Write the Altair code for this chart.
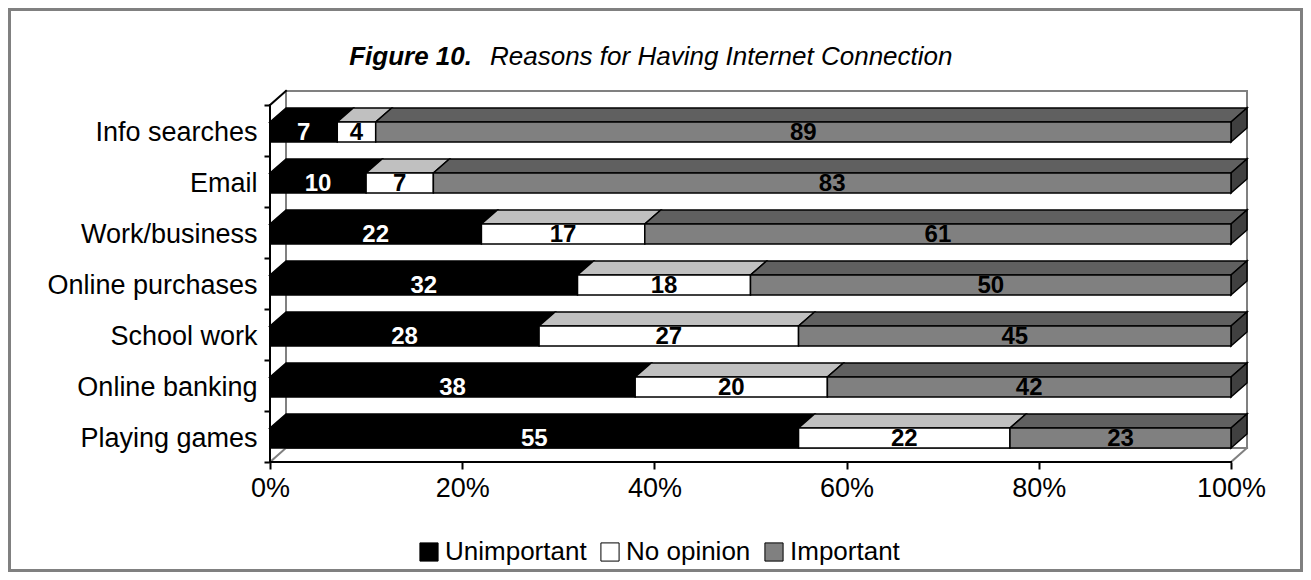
import json
import altair as alt
import pandas as pd

# ---- data ----
categories = ["Info searches", "Email", "Work/business", "Online purchases",
              "School work", "Online banking", "Playing games"]
unimportant = [7, 10, 22, 32, 28, 38, 55]
no_opinion = [4, 7, 17, 18, 27, 20, 22]
important = [89, 83, 61, 50, 45, 42, 23]
series = ["Unimportant", "No opinion", "Important"]
x_ticks = [0, 20, 40, 60, 80, 100]

# ---- styles ----
front_colors = ["#000000", "#ffffff", "#808080"]
top_colors = ["#000000", "#c0c0c0", "#606060"]
side_color = "#404040"
label_colors = ["#ffffff", "#000000", "#000000"]
FONT = "Liberation Sans"

N = len(categories)
PX_PER_PCT = 9.61          # plot pixels per percent
PX_PER_BAND = 51.0         # plot pixels per category band
DX = 16 / PX_PER_PCT       # 3-D depth, horizontal (in % units)
DY = 14 / PX_PER_BAND      # 3-D depth, vertical (in band units)
LO = DY                    # front face bottom within band
HI = LO + 20 / PX_PER_BAND # front face top within band
W = round(PX_PER_PCT * (100 + DX))
H = round(PX_PER_BAND * (N + DY))

values = [unimportant, no_opinion, important]
front_rows, top_rows, side_rows = [], [], []
for k, cat in enumerate(categories):
    i = N - 1 - k
    start = 0
    for s, name in enumerate(series):
        v = values[s][k]
        end = start + v
        front_rows.append(dict(cat=cat, series=name, x=start, x2=end,
                               y=i + LO, y2=i + HI, mid=(start + end) / 2,
                               ymid=i + (LO + HI) / 2, val=v,
                               lab=label_colors[s]))
        fid = f"{cat}|{name}"
        top_rows.append(dict(fid=fid, y=i + HI, x=start, x2=end, c=top_colors[s]))
        top_rows.append(dict(fid=fid, y=i + HI + DY, x=start + DX, x2=end + DX, c=top_colors[s]))
        if s == len(series) - 1:
            side_rows.append(dict(fid=fid, x=end, y=i + LO, y2=i + HI))
            side_rows.append(dict(fid=fid, x=end + DX, y=i + LO + DY, y2=i + HI + DY))
        start = end

front_df = pd.DataFrame(front_rows)
top_df = pd.DataFrame(top_rows)
side_df = pd.DataFrame(side_rows)

GRAY = "#808080"
BLACK = "#000000"
frame_segments = [
    ("back_top", [(DX, N + DY), (100 + DX, N + DY)], GRAY),
    ("back_right", [(100 + DX, DY), (100 + DX, N + DY)], GRAY),
    ("back_left", [(DX, DY), (DX, N + DY)], GRAY),
    ("back_bottom", [(DX, DY), (100 + DX, DY)], GRAY),
    ("floor_right", [(100, 0), (100 + DX, DY)], GRAY),
    ("left_bottom", [(0, 0), (DX, DY)], GRAY),
    ("left_top", [(0, N), (DX, N + DY)], BLACK),
    ("y_axis", [(0, 0), (0, N)], BLACK),
    ("x_axis", [(0, 0), (100, 0)], BLACK),
]
frame_df = pd.DataFrame([dict(sid=sid, x=p[0], y=p[1], c=c, o=j)
                         for sid, pts, c in frame_segments
                         for j, p in enumerate(pts)])

xscale = alt.Scale(domain=[0, 100 + DX], nice=False, zero=False)
yscale = alt.Scale(domain=[0, N + DY], nice=False, zero=False)

names_from_bottom = list(reversed(categories)) + [""]
y_label_expr = json.dumps(names_from_bottom) + "[datum.value]"

xaxis = alt.Axis(values=x_ticks, labelExpr="datum.value + '%'", domain=False,
                 grid=False, tickColor=BLACK, tickWidth=2, tickSize=7,
                 labelFontSize=27, labelPadding=6, labelColor=BLACK,
                 labelFont=FONT, labelFlush=False, labelOverlap=False,
                 title=None)
yaxis = alt.Axis(values=list(range(N + 1)), labelExpr=y_label_expr,
                 labelOffset=-24, domain=False, grid=False, tickColor=BLACK,
                 tickWidth=2, tickSize=6, labelFontSize=27, labelPadding=7,
                 labelColor=BLACK, labelFont=FONT, labelLimit=0,
                 labelOverlap=False, labelFlush=False, title=None)

frame = alt.Chart(frame_df).mark_line(strokeWidth=2, strokeCap="square").encode(
    x=alt.X("x:Q", scale=xscale, axis=xaxis),
    y=alt.Y("y:Q", scale=yscale, axis=yaxis),
    detail="sid:N",
    order="o:Q",
    stroke=alt.Stroke("c:N", scale=None),
)

tops = alt.Chart(top_df).mark_area(orient="horizontal", stroke=BLACK,
                                   strokeWidth=1.5).encode(
    y=alt.Y("y:Q", scale=yscale),
    x=alt.X("x:Q", scale=xscale),
    x2="x2:Q",
    detail="fid:N",
    fill=alt.Fill("c:N", scale=None),
)

sides = alt.Chart(side_df).mark_area(orient="vertical", stroke=BLACK,
                                     strokeWidth=1.5, fill=side_color).encode(
    x=alt.X("x:Q", scale=xscale),
    y=alt.Y("y:Q", scale=yscale),
    y2="y2:Q",
    detail="fid:N",
)

fronts = alt.Chart(front_df).mark_rect(stroke=BLACK, strokeWidth=1.5).encode(
    x=alt.X("x:Q", scale=xscale),
    x2="x2:Q",
    y=alt.Y("y:Q", scale=yscale),
    y2="y2:Q",
    color=alt.Color("series:N",
                    scale=alt.Scale(domain=series, range=front_colors),
                    sort=series,
                    legend=alt.Legend(title=None, orient="none", direction="horizontal",
                                      legendX=146, legendY=448,
                                      symbolType="square", symbolSize=330,
                                      symbolStrokeColor=BLACK, symbolStrokeWidth=1,
                                      symbolOpacity=1,
                                      labelFontSize=26, labelFont=FONT,
                                      labelColor=BLACK, labelOffset=3,
                                      columnPadding=10)),
)

labels = alt.Chart(front_df).mark_text(fontSize=24, fontWeight="bold",
                                       font=FONT, baseline="middle",
                                       dy=1).encode(
    x=alt.X("mid:Q", scale=xscale),
    y=alt.Y("ymid:Q", scale=yscale),
    text="val:Q",
    color=alt.Color("lab:N", scale=None),
)

one = pd.DataFrame({"a": [0]})
border = alt.Chart(one).mark_rect(fill="transparent", stroke=GRAY,
                                  strokeWidth=3).encode(
    x=alt.value(-260.5), x2=alt.value(1031.5),
    y=alt.value(-81.5), y2=alt.value(479.5),
)
title1 = alt.Chart(one).mark_text(text="Figure 10.", font=FONT, fontSize=26,
                                  fontStyle="italic", fontWeight="bold",
                                  align="right", baseline="middle").encode(
    x=alt.value(202), y=alt.value(-34))
title2 = alt.Chart(one).mark_text(text="Reasons for Having Internet Connection",
                                  font=FONT, fontSize=26, fontStyle="italic",
                                  align="left", baseline="middle").encode(
    x=alt.value(220), y=alt.value(-34))

chart = alt.layer(border, frame, tops, sides, fronts, labels, title1, title2).properties(
    width=W, height=H,
    autosize=alt.AutoSizeParams(type="none"),
    padding={"left": 262, "top": 83, "right": 1295 - 262 - W, "bottom": 564 - 83 - H},
    background="white",
).configure_view(stroke=None)

chart.save("out.html", embed_options={"renderer": "svg", "actions": False})
